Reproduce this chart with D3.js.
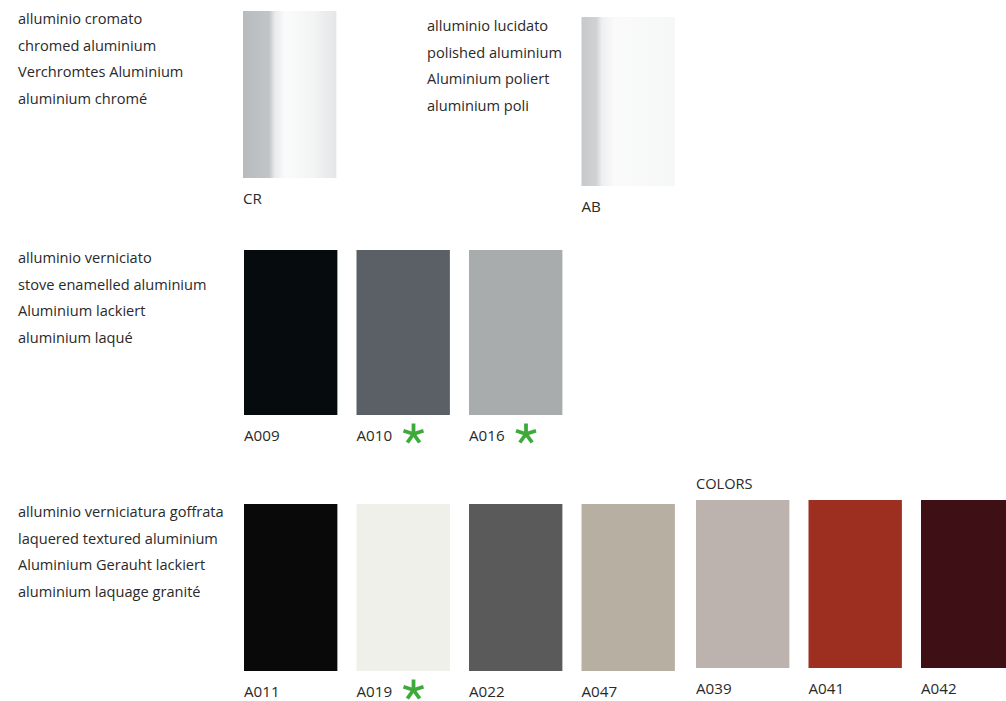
<!DOCTYPE html>
<html><head><meta charset="utf-8">
<script src="https://cdn.jsdelivr.net/npm/d3@7"></script>
<style>body{margin:0;background:#fff}svg{display:block}</style>
</head><body>
<svg id="c" width="1006" height="701"></svg>
<script>
// ---- data ----
const groupTitles = [
  ["alluminio cromato","chromed aluminium","Verchromtes Aluminium","aluminium chromé"],
  ["alluminio lucidato","polished aluminium","Aluminium poliert","aluminium poli"],
  ["alluminio verniciato","stove enamelled aluminium","Aluminium lackiert","aluminium laqué"],
  ["alluminio verniciatura goffrata","laquered textured aluminium","Aluminium Gerauht lackiert","aluminium laquage granité"]
];
const codes   = ["CR","AB","A009","A010","A016","A011","A019","A022","A047","A039","A041","A042"];
const fills   = ["grad-cr","grad-ab","#060c0e","#5b5f66","#a8acad","#0a0909","#f0f0ea","#5a5a5a","#b8afa3","#bdb3ae","#9c2f20","#3e1016"];
const columns = [0,3,0,1,2,0,1,2,3,4,5,6];
const rows    = [0,0,1,1,1,2,2,2,2,2,2,2];
const star    = [false,false,false,true,true,false,true,false,false,false,false,false];
const colorsLabel = "COLORS";

// ---- layout ----
const svg = d3.select("#c");
const font = "'Open Sans', sans-serif";
const step = 112.5, pin = 0.17;
const x = d3.scaleBand().domain(d3.range(7)).range([244, 244 + step*(7-pin)]).paddingInner(pin).paddingOuter(0);
const rowTop = [11, 250, 504];
const rowH = [167, 165, 167];
function topOf(i){ if(codes[i]==="AB") return 17; if(columns[i]>=4) return 500; return rowTop[rows[i]]; }
function hOf(i){ if(codes[i]==="AB") return 169; if(columns[i]>=4) return 168; return rowH[rows[i]]; }
function xOf(i){ return x(columns[i]) + (columns[i]>=4 ? 2 : 0) - (i===0?1:0); }

const defs = svg.append("defs");
const gcr = defs.append("linearGradient").attr("id","grad-cr");
[[0,"#b8bbbd"],[0.28,"#c2c5c7"],[0.34,"#e8eaeb"],[0.45,"#fafbfb"],[0.75,"#f3f4f4"],[1,"#e4e6e7"]]
  .forEach(s=>gcr.append("stop").attr("offset",s[0]).attr("stop-color",s[1]));
const gab = defs.append("linearGradient").attr("id","grad-ab");
[[0,"#c6c8ca"],[0.16,"#d0d2d4"],[0.22,"#eeeff0"],[0.35,"#fafafa"],[1,"#f6f7f7"]]
  .forEach(s=>gab.append("stop").attr("offset",s[0]).attr("stop-color",s[1]));

// group descriptions
const titlePos = [[18,24],[427,31],[18,263],[18,517]];
groupTitles.forEach((lines,g)=>{
  const t = svg.append("text").attr("font-family",font).attr("font-size",14.6).attr("fill","#2a2a2a");
  lines.forEach((l,k)=>t.append("tspan").attr("x",titlePos[g][0]).attr("y",titlePos[g][1]+k*26.5).text(l));
});

// swatches
const idx = d3.range(codes.length);
svg.selectAll("rect.sw").data(idx).join("rect").attr("class","sw")
  .attr("x",i=>xOf(i)).attr("y",i=>topOf(i))
  .attr("width",x.bandwidth()).attr("height",i=>hOf(i))
  .attr("fill",i=>fills[i].startsWith("grad")?`url(#${fills[i]})`:fills[i]);

// labels
svg.selectAll("text.code").data(idx).join("text").attr("class","code")
  .attr("x",i=>xOf(i)).attr("y",i=>topOf(i)+hOf(i)+26)
  .attr("font-family",font).attr("font-size",15.2).attr("fill","#2a2a2a")
  .text(i=>codes[i]);

svg.append("text").attr("x",x(4)+2).attr("y",489).attr("font-family",font).attr("font-size",14.6).attr("fill","#2a2a2a").text(colorsLabel);

// asterisks
const arm = 10.5;
idx.filter(i=>star[i]).forEach(i=>{
  const cx = xOf(i)+57, cy = topOf(i)+hOf(i)+19;
  const g = svg.append("g").attr("transform",`translate(${cx},${cy})`);
  d3.range(5).forEach(k=>{
    const a = -Math.PI/2 + k*2*Math.PI/5;
    g.append("line").attr("x1",0).attr("y1",0)
      .attr("x2",arm*Math.cos(a)).attr("y2",arm*Math.sin(a))
      .attr("stroke","#3daa3a").attr("stroke-width",3.8).attr("stroke-linecap","butt");
  });
});
</script>
</body></html>
